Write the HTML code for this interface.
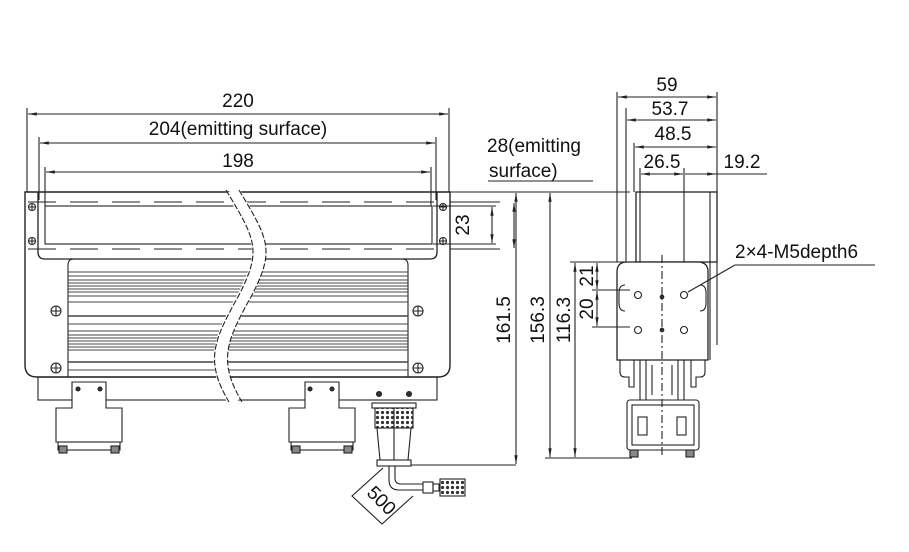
<!DOCTYPE html>
<html><head><meta charset="utf-8"><style>
html,body{margin:0;padding:0;background:#fff;}
svg{display:block;}
text{font-family:"Liberation Sans",sans-serif;fill:#111;}
</style></head><body>
<svg width="909" height="552" viewBox="0 0 909 552" xmlns="http://www.w3.org/2000/svg">
<defs>
<marker id="a" markerWidth="8" markerHeight="6" refX="8" refY="3" orient="auto-start-reverse"><path d="M0,1.5 L8,3 L0,4.5z" fill="#222"/></marker>
<pattern id="knurl" width="5" height="5" patternUnits="userSpaceOnUse"><rect width="5" height="5" fill="#fff"/><circle cx="2.5" cy="2.5" r="1.6" fill="#333"/></pattern>
</defs>
<g stroke="#222" stroke-width="1.1" fill="none">
<line x1="27" y1="108" x2="27" y2="192"/><line x1="449" y1="108" x2="449" y2="192"/>
<line x1="28" y1="114" x2="448" y2="114" marker-start="url(#a)" marker-end="url(#a)"/>
<line x1="39" y1="137" x2="39" y2="200"/><line x1="436" y1="137" x2="436" y2="200"/>
<line x1="40" y1="143" x2="435" y2="143" marker-start="url(#a)" marker-end="url(#a)"/>
<line x1="45" y1="167" x2="45" y2="206"/><line x1="431" y1="167" x2="431" y2="206"/>
<line x1="46" y1="172" x2="430" y2="172" marker-start="url(#a)" marker-end="url(#a)"/>

<path d="M25,192 H450 V365 Q450,377 438,377 H37 Q25,377 25,365 Z" stroke-width="1.4"/>
<path d="M38,192 V252 Q38,259 45,259 H430 Q437,259 437,252 V192" stroke-width="1.3"/>
<rect x="45" y="206" width="387" height="38"/>
<line x1="28" y1="202" x2="447" y2="202" stroke-dasharray="28,14"/>
<line x1="28" y1="249" x2="447" y2="249" stroke-dasharray="28,14"/>
<path d="M68,377 V265 Q68,259 74,259"/><path d="M408,377 V265 Q408,259 402,259"/>
<g stroke="#444">
<line x1="68" y1="272" x2="408" y2="272"/><line x1="68" y1="276" x2="408" y2="276"/>
<line x1="68" y1="280" x2="408" y2="280"/><line x1="68" y1="283" x2="408" y2="283"/>
<line x1="68" y1="286" x2="408" y2="286"/><line x1="68" y1="289" x2="408" y2="289"/>
<line x1="68" y1="292" x2="408" y2="292"/><line x1="68" y1="296" x2="408" y2="296"/>
<line x1="68" y1="302" x2="408" y2="302"/><line x1="68" y1="316" x2="408" y2="316" stroke-width="1.6"/>
<line x1="68" y1="324" x2="408" y2="324"/><line x1="68" y1="331" x2="408" y2="331"/>
<line x1="68" y1="335" x2="408" y2="335"/><line x1="68" y1="338" x2="408" y2="338"/>
<line x1="68" y1="341" x2="408" y2="341"/><line x1="68" y1="344" x2="408" y2="344"/>
<line x1="68" y1="347" x2="408" y2="347"/><line x1="68" y1="350" x2="408" y2="350"/>
<line x1="68" y1="362" x2="408" y2="362" stroke-width="1.6"/><line x1="68" y1="370" x2="408" y2="370"/>
</g>
<rect x="38" y="377" width="399" height="23"/>
<g fill="#fff">
<circle cx="32" cy="207" r="3.5"/><circle cx="32" cy="241" r="3.5"/><circle cx="443" cy="207" r="3.5"/><circle cx="443" cy="241" r="3.5"/>
<circle cx="56" cy="311" r="5"/><circle cx="56" cy="368" r="5"/><circle cx="418" cy="311" r="5"/><circle cx="418" cy="368" r="5"/>
</g>
<path d="M51,311h10M56,306v10M51,368h10M56,363v10M413,311h10M418,306v10M413,368h10M418,363v10M29,207h6M32,204v6M29,241h6M32,238v6M440,207h6M443,204v6M440,241h6M443,238v6"/>
<path d="M232,190 C262,240 268,250 245,295 C220,340 210,360 235,402" stroke="#fff" stroke-width="14"/>
<path d="M226,190 C256,240 262,250 239,295 C214,340 204,360 229,402" stroke-dasharray="6,2"/>
<path d="M239,190 C269,240 275,250 252,295 C227,340 217,360 242,402" stroke-dasharray="6,2"/>
<g fill="#fff">
<path d="M72,382 H106 V408 H122 V442 H56 V408 H72 Z"/>
<path d="M305,382 H339 V408 H355 V442 H289 V408 H305 Z"/>
</g>
<circle cx="78" cy="389" r="2" fill="#333"/><circle cx="100" cy="389" r="2" fill="#333"/>
<circle cx="310" cy="389" r="2" fill="#333"/><circle cx="332" cy="389" r="2" fill="#333"/>
<rect x="58" y="442" width="62" height="8"/><rect x="291" y="442" width="62" height="8"/>
<rect x="59" y="446" width="8" height="7" fill="#888"/><rect x="111" y="446" width="8" height="7" fill="#888"/>
<rect x="292" y="446" width="8" height="7" fill="#888"/><rect x="344" y="446" width="8" height="7" fill="#888"/>
<circle cx="379" cy="394" r="2.5" fill="#333"/><circle cx="409" cy="394" r="2.5" fill="#333"/>
<rect x="372" y="403" width="44" height="5"/>
<rect x="375" y="408" width="38" height="20" fill="url(#knurl)"/>
<path d="M377,428 L380,460 H408 L411,428 M394,408 V460"/>
<rect x="377" y="460" width="34" height="6"/>
<line x1="411" y1="465" x2="516" y2="465"/>
<path d="M389,466 V480 Q389,490 399,490 H423 M395,466 V478 Q395,484 401,484 H423"/>
<rect x="423" y="482" width="10" height="11"/><rect x="433" y="484" width="6" height="7"/>
<rect x="440" y="479" width="25" height="17" fill="url(#knurl)"/>
<path d="M383,468 L352,496 L382,524 L413,496"/>
<line x1="450" y1="202" x2="500" y2="202"/><line x1="450" y1="249" x2="500" y2="249"/>
<line x1="433" y1="206" x2="496" y2="206"/><line x1="433" y1="244" x2="496" y2="244"/>
<line x1="492" y1="207" x2="492" y2="243" marker-start="url(#a)" marker-end="url(#a)"/>
<line x1="514" y1="203" x2="514" y2="248" marker-start="url(#a)" marker-end="url(#a)"/>
<line x1="450" y1="192" x2="630" y2="192"/>
<line x1="516" y1="193" x2="516" y2="464" marker-start="url(#a)" marker-end="url(#a)"/>
<line x1="488" y1="181" x2="593" y2="181"/>
<line x1="550" y1="193" x2="550" y2="457" marker-start="url(#a)" marker-end="url(#a)"/>
<line x1="545" y1="458" x2="632" y2="458"/>
<line x1="570" y1="262" x2="625" y2="262"/>
<line x1="575" y1="263" x2="575" y2="457" marker-start="url(#a)" marker-end="url(#a)"/>

<line x1="617" y1="92" x2="617" y2="262"/><line x1="717" y1="92" x2="717" y2="192"/>
<line x1="618" y1="97" x2="716" y2="97" marker-start="url(#a)" marker-end="url(#a)"/>
<line x1="626" y1="108" x2="626" y2="262"/>
<line x1="627" y1="120" x2="716" y2="120" marker-start="url(#a)" marker-end="url(#a)"/>
<line x1="634" y1="143" x2="634" y2="192"/>
<line x1="635" y1="147" x2="716" y2="147" marker-start="url(#a)" marker-end="url(#a)"/>
<line x1="640" y1="168" x2="640" y2="290"/><line x1="684" y1="168" x2="684" y2="290"/>
<line x1="641" y1="174" x2="683" y2="174" marker-start="url(#a)" marker-end="url(#a)"/>
<line x1="685" y1="174" x2="716" y2="174" marker-end="url(#a)"/>
<line x1="716" y1="174" x2="767" y2="174"/>
<rect x="636" y="192" width="81" height="70" stroke-width="1.3"/>
<line x1="710" y1="192" x2="710" y2="360"/><line x1="717" y1="262" x2="717" y2="345"/>
<path d="M617,360 V272 Q617,262 627,262 H698 Q708,262 708,272 V360 Z" fill="#fff" stroke-width="1.3"/>
<line x1="662" y1="255" x2="662" y2="455" stroke-dasharray="8,3,2,3"/>
<path d="M625,285 q-6,0 -6,8 v10 q0,8 6,8 M700,285 q6,0 6,8 v10 q0,8 -6,8"/>
<g fill="#fff"><circle cx="638" cy="295" r="3.5"/><circle cx="684" cy="295" r="3.5"/><circle cx="638" cy="330" r="3.5"/><circle cx="684" cy="330" r="3.5"/></g>
<circle cx="662" cy="297" r="1.8" fill="#333"/><circle cx="662" cy="330" r="1.8" fill="#333"/>
<line x1="592" y1="290" x2="630" y2="290"/><line x1="592" y1="327" x2="630" y2="327"/>
<line x1="597" y1="263" x2="597" y2="289" marker-start="url(#a)" marker-end="url(#a)"/>
<line x1="597" y1="291" x2="597" y2="326" marker-start="url(#a)" marker-end="url(#a)"/>
<line x1="688" y1="292" x2="735" y2="265"/><line x1="735" y1="265" x2="875" y2="265"/>
<path d="M620,360 v12 q0,5 5,5 h4 v10 h5 v-27 M705,360 v12 q0,5 -5,5 h-4 v10 h-5 v-27"/>
<path d="M640,360 v40 M646,360 v40 M652,365 v30 M672,365 v30 M678,360 v40 M684,360 v40"/>
<rect x="627" y="400" width="72" height="50" rx="3"/>
<rect x="632" y="405" width="62" height="40"/>
<rect x="638" y="417" width="9" height="18"/><rect x="677" y="417" width="9" height="18"/>
<rect x="630" y="450" width="8" height="7" fill="#888"/><rect x="686" y="450" width="8" height="7" fill="#888"/>
</g>
<g font-size="19">
<text x="238" y="107" text-anchor="middle">220</text>
<text x="238" y="135" text-anchor="middle">204(emitting surface)</text>
<text x="238" y="167" text-anchor="middle">198</text>
<text x="487" y="152">28(emitting</text>
<text x="489" y="177">surface)</text>
<text x="667" y="91" text-anchor="middle">59</text>
<text x="670" y="115" text-anchor="middle">53.7</text>
<text x="673" y="140" text-anchor="middle">48.5</text>
<text x="662" y="168" text-anchor="middle">26.5</text>
<text x="742" y="168" text-anchor="middle">19.2</text>
<text x="735" y="258">2×4-M5depth6</text>
<text transform="translate(469,225) rotate(-90)" text-anchor="middle">23</text>
<text transform="translate(510,320) rotate(-90)" text-anchor="middle">161.5</text>
<text transform="translate(544,320) rotate(-90)" text-anchor="middle">156.3</text>
<text transform="translate(570,320) rotate(-90)" text-anchor="middle">116.3</text>
<text transform="translate(593,276) rotate(-90)" text-anchor="middle">21</text>
<text transform="translate(593,309) rotate(-90)" text-anchor="middle">20</text>
<text transform="translate(377,505) rotate(45)" text-anchor="middle">500</text>
</g>
</svg>
</body></html>
